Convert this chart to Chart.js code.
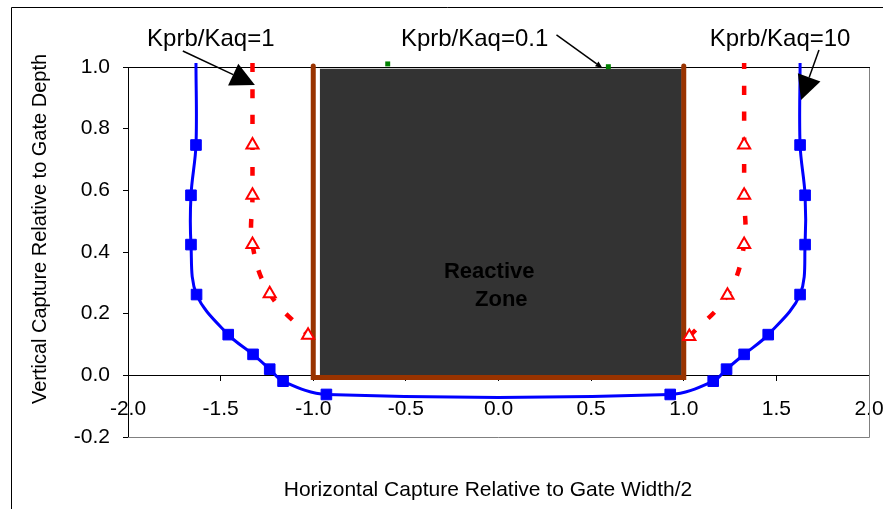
<!DOCTYPE html>
<html><head><meta charset="utf-8">
<script src="https://cdn.jsdelivr.net/npm/chart.js@4.4.1/dist/chart.umd.min.js"></script>
<style>html,body{margin:0;padding:0;background:#fff;}#wrap{width:883px;height:509px;position:relative;}</style>
</head><body><div id="wrap"><canvas id="c" width="883" height="509"></canvas></div>
<script>
// ---- data (axis units) ----
const seriesNames = ['Kprb/Kaq=10', 'Kprb/Kaq=1', 'Kprb/Kaq=0.1'];
// Kprb/Kaq = 10 (blue squares)
const blueX = [-1.633, -1.633, -1.660, -1.660, -1.630, -1.459, -1.325, -1.235, -1.163, -0.929, 0.927, 1.159, 1.231, 1.326, 1.456, 1.628, 1.655, 1.655, 1.628, 1.628];
const blueY = [1.013, 0.747, 0.584, 0.424, 0.262, 0.132, 0.068, 0.020, -0.019, -0.062, -0.062, -0.019, 0.020, 0.068, 0.132, 0.262, 0.424, 0.584, 0.747, 1.013];
// Kprb/Kaq = 1 (red triangles), left and right branches
const redLeftX = [-1.328, -1.328, -1.328, -1.328, -1.235, -1.028];
const redLeftY = [1.013, 0.747, 0.584, 0.424, 0.265, 0.130];
const redRightX = [1.030, 1.236, 1.326, 1.326, 1.326, 1.326];
const redRightY = [0.126, 0.260, 0.424, 0.584, 0.747, 1.013];
// Kprb/Kaq = 0.1 (green squares, visible points)
const greenX = [-0.598, 0.593];
const greenY = [1.010, 1.001];
// gate outline and reactive zone
const gateX = [-1.0, -1.0, 1.0, 1.0];
const gateY = [1.003, -0.007, -0.007, 1.003];
const zoneX = [-0.965, 0.99];
const zoneY = [0.994, 0.994];
// axes
const xTickLabels = ['-2.0', '-1.5', '-1.0', '-0.5', '0.0', '0.5', '1.0', '1.5', '2.0'];
const yTickLabels = ['-0.2', '0.0', '0.2', '0.4', '0.6', '0.8', '1.0'];
const xTitle = 'Horizontal Capture Relative to Gate Width/2';
const yTitle = 'Vertical Capture Relative to Gate Depth';
const zoneLabel = ['Reactive', 'Zone'];

const pts = (xs, ys) => xs.map((x, i) => ({x: x, y: ys[i]}));
const FONT = '"Liberation Sans", Arial, sans-serif';

// annotation layout (in axis units)
const notes = [
  {text: seriesNames[1], tx: -1.553, ty: 1.091, from: [-1.704, 1.052], to: [-1.315, 0.942], head: [24, 24]},
  {text: seriesNames[2], tx: -0.129, ty: 1.091, from: [0.313, 1.104], to: [0.561, 0.997], head: [7, 6]},
  {text: seriesNames[0], tx: 1.520, ty: 1.091, from: [1.730, 1.055], to: [1.633, 0.893], head: [24, 24]}
];

const decor = {
  id: 'decor',
  beforeDatasetsDraw(chart) {
    const {ctx, chartArea: a} = chart;
    ctx.save();
    ctx.lineWidth = 1;
    ctx.strokeStyle = '#808080';
    ctx.beginPath();
    ctx.moveTo(a.left, Math.round(a.bottom) + 0.5);
    ctx.lineTo(Math.round(a.right) + 0.5, Math.round(a.bottom) + 0.5);
    ctx.lineTo(Math.round(a.right) + 0.5, Math.round(a.top));
    ctx.stroke();
    ctx.strokeStyle = '#000';
    ctx.beginPath();
    ctx.moveTo(a.left, Math.round(a.top) + 0.5);
    ctx.lineTo(Math.round(a.right) + 1, Math.round(a.top) + 0.5);
    ctx.stroke();
    ctx.beginPath();
    ctx.moveTo(11.5, 509); ctx.lineTo(11.5, 7.5); ctx.lineTo(883, 7.5);
    ctx.stroke();
    ctx.restore();
  },
  afterDatasetsDraw(chart) {
    const {ctx} = chart;
    const xs = chart.scales.x, ys = chart.scales.y;
    const px = v => xs.getPixelForValue(v), py = v => ys.getPixelForValue(v);
    ctx.save();
    // reactive zone label
    ctx.fillStyle = '#000';
    ctx.font = 'bold 22px ' + FONT;
    ctx.textAlign = 'center';
    ctx.textBaseline = 'middle';
    ctx.fillText(zoneLabel[0], px(-0.05), py(0.334));
    ctx.fillText(zoneLabel[1], px(0.015), py(0.243));
    // annotations
    ctx.font = '24px ' + FONT;
    notes.forEach(n => {
      ctx.fillStyle = '#000';
      ctx.fillText(n.text, px(n.tx), py(n.ty));
      const x0 = px(n.from[0]), y0 = py(n.from[1]), x1 = px(n.to[0]), y1 = py(n.to[1]);
      const dx = x1 - x0, dy = y1 - y0, L = Math.hypot(dx, dy);
      const ux = dx / L, uy = dy / L;
      const bx = x1 - ux * n.head[0], by = y1 - uy * n.head[0];
      ctx.strokeStyle = '#000';
      ctx.lineWidth = 1.5;
      ctx.beginPath(); ctx.moveTo(x0, y0); ctx.lineTo(bx, by); ctx.stroke();
      const hw = n.head[1] / 2;
      ctx.beginPath();
      ctx.moveTo(x1, y1);
      ctx.lineTo(bx - uy * hw, by + ux * hw);
      ctx.lineTo(bx + uy * hw, by - ux * hw);
      ctx.closePath();
      ctx.fill();
    });
    // axis titles
    ctx.font = '21px ' + FONT;
    ctx.fillText(xTitle, 488, 490);
    ctx.font = '20px ' + FONT;
    ctx.translate(40, 229);
    ctx.rotate(-Math.PI / 2);
    ctx.fillText(yTitle, 0, 0);
    ctx.restore();
  }
};

const endless = (n) => (ctx) => (ctx.dataIndex === 0 || ctx.dataIndex === n - 1) ? 0 : 7.5;

new Chart(document.getElementById('c'), {
  type: 'scatter',
  data: {
    datasets: [
      {label: seriesNames[2], data: pts(greenX, greenY), showLine: false, pointStyle: 'rect', pointRadius: 3.5,
       pointBackgroundColor: '#008000', pointBorderColor: '#008000', pointBorderWidth: 0, clip: false, order: 0},
      {label: seriesNames[0], data: pts(blueX, blueY), showLine: true, borderColor: '#0000FF', borderWidth: 3, tension: 0.35,
       pointStyle: 'rect', pointRadius: endless(blueX.length), pointBackgroundColor: '#0000FF', pointBorderColor: '#0000FF',
       pointBorderWidth: 1, clip: false, order: 1},
      {label: seriesNames[1], data: pts(redLeftX, redLeftY), showLine: true, borderColor: '#FF0000', borderWidth: 4.5,
       borderDash: [9, 17], tension: 0.4, pointStyle: 'triangle', pointRadius: (c) => c.dataIndex === 0 ? 0 : 7,
       pointBackgroundColor: '#FFFFFF', pointBorderColor: '#FF0000', pointBorderWidth: 2, clip: false, order: 2},
      {label: seriesNames[1] + ' ', data: pts(redRightX, redRightY), showLine: true, borderColor: '#FF0000', borderWidth: 4.5,
       borderDash: [9, 17], tension: 0.4, pointStyle: 'triangle', pointRadius: (c) => c.dataIndex === redRightX.length - 1 ? 0 : 7,
       pointBackgroundColor: '#FFFFFF', pointBorderColor: '#FF0000', pointBorderWidth: 2, clip: false, order: 2},
      {label: 'Gate', data: pts(gateX, gateY), showLine: true, borderColor: '#993300', borderWidth: 5, tension: 0,
       borderCapStyle: 'round', borderJoinStyle: 'miter', pointRadius: 0, clip: false, order: 5},
      {label: 'Reactive Zone', data: pts(zoneX, zoneY), showLine: true, borderColor: 'rgba(0,0,0,0)', borderWidth: 0,
       backgroundColor: '#333333', fill: 'origin', tension: 0, pointRadius: 0, clip: false, order: 6}
    ]
  },
  options: {
    responsive: false,
    animation: false,
    events: [],
    layout: {padding: {left: 11, top: 67, right: 14, bottom: 72}},
    plugins: {legend: {display: false}, tooltip: {enabled: false}},
    scales: {
      x: {
        type: 'linear', min: -2, max: 2, position: {y: 0},
        afterFit: (s) => { s.height = 0; s.paddingLeft = 0; s.paddingRight = 0; },
        border: {display: true, color: '#000', width: 1},
        grid: {display: true, drawOnChartArea: false, drawTicks: true, tickLength: 5, color: '#000'},
        ticks: {stepSize: 0.5, padding: 16, color: '#000', font: {family: FONT, size: 21},
                maxRotation: 0, autoSkip: false,
                callback: (v) => xTickLabels[Math.round((v + 2) / 0.5)]}
      },
      y: {
        type: 'linear', min: -0.2, max: 1.0, position: 'left',
        afterFit: (s) => { s.width = 117; },
        border: {display: true, color: '#000', width: 1},
        grid: {display: true, drawOnChartArea: false, drawTicks: true, tickLength: 5, color: '#000'},
        ticks: {stepSize: 0.2, padding: 13, color: '#000', font: {family: FONT, size: 21},
                callback: (v) => yTickLabels[Math.round((v + 0.2) / 0.2)]}
      }
    }
  },
  plugins: [decor]
});
</script>
</body></html>
